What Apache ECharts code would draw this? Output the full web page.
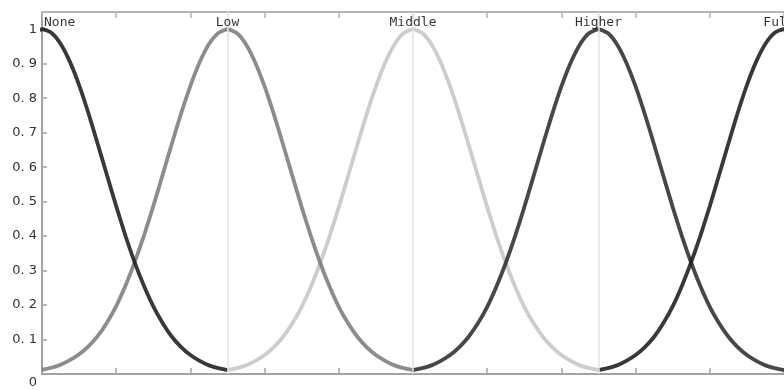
<!DOCTYPE html>
<html>
<head>
<meta charset="utf-8">
<script src="https://cdn.jsdelivr.net/npm/echarts@6/dist/echarts.min.js"></script>
<style>
  html, body { margin: 0; padding: 0; background: #fff; }
  #chart { width: 784px; height: 390px; }
</style>
</head>
<body>
<div id="chart"></div>
<script>
// membership curves at center-25 .. center+25, step 1.25
const offsets = [-25, -23.75, -22.5, -21.25, -20, -18.75, -17.5, -16.25, -15, -13.75, -12.5, -11.25, -10, -8.75, -7.5, -6.25, -5, -3.75, -2.5, -1.25,
  0, 1.25, 2.5, 3.75, 5, 6.25, 7.5, 8.75, 10, 11.25, 12.5, 13.75, 15, 16.25, 17.5, 18.75, 20, 21.25, 22.5, 23.75, 25];
const centers = [0, 25, 50, 75, 100];
const setNames = ['None', 'Low', 'Middle', 'Higher', 'Full'];

const noneValues = [0.011, 0.017, 0.025, 0.038, 0.055, 0.078, 0.108, 0.147, 0.195, 0.254, 0.322, 0.399, 0.484, 0.574, 0.665, 0.753, 0.834, 0.903, 0.956, 0.989,
  1, 0.99, 0.958, 0.906, 0.838, 0.757, 0.668, 0.577, 0.487, 0.401, 0.323, 0.255, 0.196, 0.148, 0.108, 0.078, 0.055, 0.038, 0.025, 0.017, 0.011];
const lowValues = [0.012, 0.018, 0.027, 0.04, 0.057, 0.08, 0.11, 0.149, 0.197, 0.256, 0.325, 0.402, 0.487, 0.577, 0.668, 0.756, 0.836, 0.904, 0.957, 0.989,
  1, 0.989, 0.956, 0.903, 0.834, 0.753, 0.665, 0.574, 0.484, 0.399, 0.322, 0.254, 0.195, 0.147, 0.108, 0.078, 0.055, 0.038, 0.025, 0.017, 0.011];
const middleValues = [0.011, 0.017, 0.025, 0.038, 0.055, 0.078, 0.108, 0.147, 0.195, 0.254, 0.322, 0.399, 0.484, 0.574, 0.665, 0.753, 0.834, 0.903, 0.956, 0.989,
  1, 0.989, 0.956, 0.903, 0.834, 0.753, 0.665, 0.574, 0.484, 0.399, 0.322, 0.254, 0.195, 0.147, 0.108, 0.078, 0.055, 0.038, 0.025, 0.017, 0.011];
const higherValues = [0.011, 0.017, 0.025, 0.038, 0.055, 0.078, 0.108, 0.147, 0.195, 0.254, 0.322, 0.399, 0.484, 0.574, 0.665, 0.753, 0.834, 0.903, 0.956, 0.989,
  1, 0.989, 0.956, 0.903, 0.834, 0.753, 0.665, 0.574, 0.484, 0.399, 0.322, 0.254, 0.195, 0.147, 0.108, 0.078, 0.055, 0.038, 0.025, 0.017, 0.011];
const fullValues = [0.011, 0.017, 0.025, 0.038, 0.055, 0.078, 0.108, 0.148, 0.196, 0.256, 0.325, 0.402, 0.487, 0.577, 0.668, 0.757, 0.838, 0.906, 0.958, 0.99,
  1, 0.989, 0.956, 0.903, 0.834, 0.753, 0.665, 0.574, 0.484, 0.399, 0.322, 0.254, 0.195, 0.147, 0.108, 0.078, 0.055, 0.038, 0.025, 0.017, 0.011];

const curveValues = [noneValues, lowValues, middleValues, higherValues, fullValues];
const curveColors = ['#1c1c1c', '#7c7c7c', '#c6c6c6', '#2e2e2e', '#1c1c1c'];
const drawOrder = [2, 1, 0, 3, 4];

const chart = echarts.init(document.getElementById('chart'));

const curveSeries = drawOrder.map(k => ({
  name: setNames[k],
  type: 'line',
  smooth: 0.2,
  symbol: 'none',
  silent: true,
  clip: true,
  data: offsets.map((o, i) => [centers[k] + o, curveValues[k][i]]),
  lineStyle: { color: curveColors[k], width: 3.8, opacity: 0.88 },
  z: 3
}));

const option = {
  backgroundColor: '#fff',
  animation: false,
  grid: { left: 42, top: 12, bottom: 16, width: 750 },
  xAxis: [
    {
      type: 'value',
      min: 0,
      max: 100,
      interval: 10,
      axisLine: { show: true, lineStyle: { color: '#a3a3a3', width: 2 } },
      axisTick: { inside: true, length: 6, lineStyle: { color: '#a3a3a3', width: 1.5 } },
      axisLabel: { show: false },
      splitLine: { show: false }
    },
    {
      type: 'value',
      position: 'top',
      min: 0,
      max: 100,
      interval: 10,
      axisLine: { show: true, lineStyle: { color: '#b5b5b5', width: 2 } },
      axisTick: { inside: true, length: 6, lineStyle: { color: '#b5b5b5', width: 1.5 } },
      axisLabel: { show: false },
      splitLine: { show: false }
    }
  ],
  yAxis: {
    type: 'value',
    min: 0,
    max: 1.05,
    interval: 0.1,
    axisLine: { show: true, lineStyle: { color: '#a3a3a3', width: 2 } },
    axisTick: { inside: true, length: 5, lineStyle: { color: '#a3a3a3', width: 1.5 } },
    axisLabel: {
      showMaxLabel: false,
      color: '#333',
      fontSize: 13,
      fontFamily: 'DejaVu Sans',
      margin: 5,
      formatter: v => {
        if (v === 0) return '{zero|0}';
        if (v === 1) return '1';
        return v.toFixed(1).replace('.', '. ');
      },
      rich: {
        zero: { fontSize: 13, color: '#333', fontFamily: 'DejaVu Sans', padding: [18, 0, 0, 0] }
      }
    },
    splitLine: { show: false }
  },
  series: [
    {
      type: 'line',
      data: [],
      silent: true,
      markLine: {
        silent: true,
        symbol: 'none',
        label: { show: false },
        lineStyle: { color: '#e2e2e2', width: 1.5, type: 'solid' },
        data: centers.slice(1, 4).map(c => ({ xAxis: c }))
      },
      z: 1
    },
    ...curveSeries,
    {
      type: 'scatter',
      symbolSize: 0,
      silent: true,
      data: centers.map((c, k) => ({
        value: [c, 1],
        label: k === 0 ? { align: 'left', offset: [2, 0] } : (k === 4 ? { offset: [-5, 0] } : {})
      })),
      label: {
        show: true,
        position: 'top',
        distance: 0,
        color: '#000',
        fontSize: 13,
        fontFamily: 'DejaVu Sans Mono',
        formatter: p => setNames[p.dataIndex]
      },
      z: 5
    }
  ]
};

chart.setOption(option);
</script>
</body>
</html>
